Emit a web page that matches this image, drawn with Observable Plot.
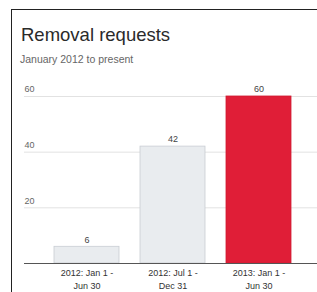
<!DOCTYPE html>
<html>
<head>
<meta charset="utf-8">
<script src="https://cdn.jsdelivr.net/npm/d3@7"></script>
<script src="https://cdn.jsdelivr.net/npm/@observablehq/plot@0.6"></script>
<style>
  html, body { margin: 0; padding: 0; background: #fff; overflow: hidden; }
  body { width: 317px; height: 292px; position: relative; font-family: "Liberation Sans", Arial, sans-serif; }
  #frame { position: absolute; left: 11px; top: 9px; width: 400px; height: 400px; border: 1.5px solid #222; box-sizing: border-box; }
  #title { position: absolute; left: 21px; top: 24px; font-size: 18.5px; color: #2a2a2a; white-space: nowrap; }
  #subtitle { position: absolute; left: 20px; top: 53px; font-size: 10.5px; color: #666; white-space: nowrap; letter-spacing: 0px; }
  #chart { position: absolute; left: 0; top: 0; }
</style>
</head>
<body>
<div id="frame"></div>
<div id="title">Removal requests</div>
<div id="subtitle">January 2012 to present</div>
<div id="chart"></div>
<script>
const periods = ["2012: Jan 1 -\nJun 30", "2012: Jul 1 -\nDec 31", "2013: Jan 1 -\nJun 30"];
const requests = [6, 42, 60];
const highlight = [false, false, true];
const yTicks = [20, 40, 60];

const data = periods.map((p, i) => ({period: p, value: requests[i], hi: highlight[i]}));

const chart = Plot.plot({
  width: 317,
  height: 292,
  marginTop: 96,
  marginBottom: 29,
  marginLeft: 24,
  marginRight: 0,
  style: {fontFamily: "Liberation Sans, Arial, sans-serif", background: "transparent"},
  x: {domain: periods, range: [24, 320], paddingInner: 0.25, paddingOuter: 0.333, axis: null},
  y: {domain: [0, 60], axis: null},
  marks: [
    Plot.ruleY(yTicks, {stroke: "#e2e2e2", strokeWidth: 1}),
    Plot.text(yTicks, {y: d => d, text: d => String(d), frameAnchor: "left", textAnchor: "start", dx: 0, dy: -7, fontSize: 9, fill: "#666"}),
    Plot.barY(data, {x: "period", y: "value", fill: d => d.hi ? "#e01e37" : "#e9ecef", stroke: d => d.hi ? "#d01a30" : "#c9ced3", strokeWidth: 0.8}),
    Plot.ruleY([0], {stroke: "#555", strokeWidth: 1}),
    Plot.text(data, {x: "period", y: "value", text: d => String(d.value), dy: -7, fontSize: 9, fill: "#444"}),
    Plot.text(data, {x: "period", y: 0, text: "period", frameAnchor: "bottom", lineAnchor: "top", dy: 4, fontSize: 9, fill: "#333", lineHeight: 1.4})
  ]
});
document.getElementById("chart").appendChild(chart);
</script>
</body>
</html>
